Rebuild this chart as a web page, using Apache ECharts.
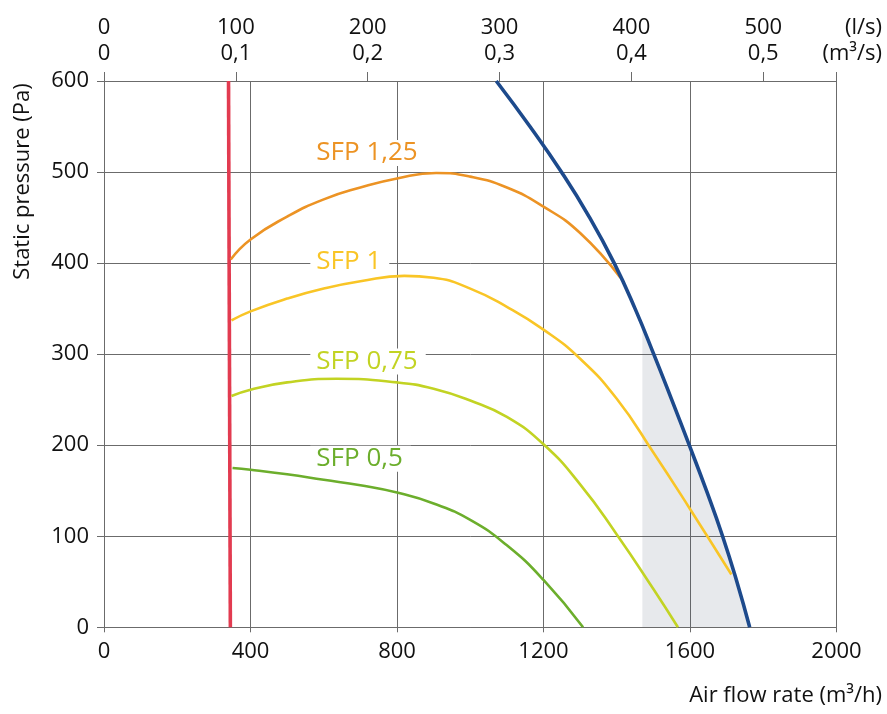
<!DOCTYPE html>
<html>
<head>
<meta charset="utf-8">
<script src="https://cdn.jsdelivr.net/npm/echarts@6/dist/echarts.min.js"></script>
<style>
	html, body { margin: 0; padding: 0; background: #fff; }
	#chart { width: 887px; height: 714px; }
</style>
</head>
<body>
<div id="chart"></div>
<script>
// axis ticks
var flowTicks = [0, 400, 800, 1200, 1600, 2000];          // m3/h
var lsTicks = [0, 100, 200, 300, 400, 500];               // l/s
var m3sTicks = ['0', '0,1', '0,2', '0,3', '0,4', '0,5'];  // m3/s
var pressureTicks = [0, 100, 200, 300, 400, 500, 600];

// red limit line
var redX = [345, 340];
var redY = [0, 600];

// fan curve (blue)
var blueX = [1071, 1163, 1249, 1326, 1393, 1450, 1501, 1550, 1598, 1645, 1689, 1728, 1763];
var blueY = [600, 550, 500, 450, 400, 350, 300, 250, 200, 150, 100, 50, 0];

// grey zone under the fan curve
var shadeX = [1470, 1501, 1550, 1598, 1645, 1689, 1728, 1763];
var shadeY = [330, 300, 250, 200, 150, 100, 50, 0];

// SFP curves
var sfp125X = [346, 400, 500, 600, 700, 800, 907, 1000, 1100, 1200, 1300, 1410];
var sfp125Y = [404, 426, 451, 470, 483, 493, 499, 495, 483, 462, 433, 384];

var sfp1X = [348, 400, 500, 600, 700, 820, 900, 1000, 1100, 1200, 1300, 1400, 1500, 1600, 1713];
var sfp1Y = [337, 347, 361, 372, 380, 386, 384, 372, 352, 327, 295, 251, 192, 130, 58];

var sfp075X = [348, 400, 500, 635, 800, 900, 1000, 1100, 1200, 1300, 1400, 1500, 1567];
var sfp075Y = [254, 261, 269, 273, 269, 262, 249, 231, 201, 157, 102, 42, 0];

var sfp05X = [351, 400, 500, 600, 700, 800, 900, 1000, 1100, 1200, 1308];
var sfp05Y = [175, 173, 168, 162, 156, 148, 136, 118, 90, 52, 0];

var sfpNames = ['SFP 1,25', 'SFP 1', 'SFP 0,75', 'SFP 0,5'];

function pairs(xs, ys) {
	return xs.map(function(x, i) { return [x, ys[i]]; });
}

var FONT = '"Open Sans", "Noto Sans", sans-serif';
var GRID = '#6b6b6b';

function sfpSeries(name, xs, ys, color, labelY) {
	return {
		name: name,
		type: 'line',
		data: pairs(xs, ys),
		smooth: 0.5,
		symbol: 'none',
		lineStyle: { color: color, width: 2.6 },
		markPoint: {
			symbol: 'circle',
			symbolSize: 1,
			itemStyle: { color: 'rgba(0,0,0,0)' },
			silent: true,
			label: {
				show: true,
				position: 'right',
				distance: 0,
				formatter: name,
				color: color,
				fontFamily: FONT,
				fontSize: 26,
				backgroundColor: '#fff',
				padding: [0, 8, 0, 6]
			},
			data: [{ coord: [562, labelY] }]
		}
	};
}

var chart = echarts.init(document.getElementById('chart'));

var option = {
	animation: false,
	backgroundColor: '#fff',
	grid: { left: 104, right: 50.5, top: 81, bottom: 86.7, containLabel: false },
	xAxis: [{
		type: 'value',
		position: 'bottom',
		min: flowTicks[0],
		max: flowTicks[flowTicks.length - 1],
		interval: 400,
		axisLine: { show: true, lineStyle: { color: GRID, width: 1 } },
		axisTick: { show: true, inside: false, length: 5, lineStyle: { color: GRID } },
		axisLabel: {
			margin: 13, color: '#111', fontFamily: FONT, fontSize: 22,
			formatter: function(v) { return String(v); }
		},
		splitLine: { show: true, lineStyle: { color: GRID, width: 1 } }
	}, {
		type: 'value',
		position: 'top',
		min: 0,
		max: 2000 / 3.6,
		interval: 100,
		axisLine: { show: true, lineStyle: { color: GRID, width: 1 } },
		axisTick: { show: true, inside: false, length: 9, lineStyle: { color: GRID } },
		axisLabel: {
			margin: 14,
			color: '#111',
			fontFamily: FONT,
			fontSize: 22,
			lineHeight: 26,
			formatter: function(v) {
				for (var i = 0; i < lsTicks.length; i++) {
					if (Math.abs(v - lsTicks[i]) < 1e-6) return lsTicks[i] + '\n' + m3sTicks[i];
				}
				return '';
			}
		},
		splitLine: { show: false }
	}],
	yAxis: {
		type: 'value',
		min: pressureTicks[0],
		max: pressureTicks[pressureTicks.length - 1],
		interval: 100,
		axisLine: { show: true, lineStyle: { color: GRID, width: 1 } },
		axisTick: { show: true, inside: false, length: 7, lineStyle: { color: GRID } },
		axisLabel: { margin: 15, color: '#111', fontFamily: FONT, fontSize: 22 },
		splitLine: { show: true, lineStyle: { color: GRID, width: 1 } }
	},
	graphic: [{
		type: 'text',
		x: 22.7,
		y: 181.5,
		rotation: Math.PI / 2,
		style: {
			text: 'Static pressure (Pa)',
			fill: '#111',
			font: '22px ' + FONT,
			align: 'center',
			verticalAlign: 'middle'
		}
	}, {
		type: 'text',
		x: 882,
		y: 695.7,
		style: {
			text: 'Air flow rate (m³/h)',
			fill: '#111',
			font: '22px ' + FONT,
			align: 'right',
			verticalAlign: 'middle'
		}
	}, {
		type: 'text',
		x: 882,
		y: 14.7,
		style: {
			text: '(l/s)\n(m³/s)',
			fill: '#111',
			font: '22px ' + FONT,
			lineHeight: 26,
			align: 'right',
			verticalAlign: 'top'
		}
	}],
	series: [{
		name: 'zone',
		type: 'line',
		data: pairs(shadeX, shadeY),
		smooth: 0.5,
		symbol: 'none',
		lineStyle: { width: 0 },
		areaStyle: { color: 'rgba(60,75,95,0.12)', opacity: 1 },
		silent: true
	}, {
		name: 'limit',
		type: 'line',
		data: pairs(redX, redY),
		symbol: 'none',
		lineStyle: { color: '#e23b50', width: 3.6 }
	},
		sfpSeries(sfpNames[3], sfp05X, sfp05Y, '#6cae2c', 185),
		sfpSeries(sfpNames[2], sfp075X, sfp075Y, '#c2d323', 292),
		sfpSeries(sfpNames[1], sfp1X, sfp1Y, '#f9c526', 402),
		sfpSeries(sfpNames[0], sfp125X, sfp125Y, '#ec9324', 521),
	{
		name: 'fan',
		type: 'line',
		data: pairs(blueX, blueY),
		smooth: 0.5,
		symbol: 'none',
		lineStyle: { color: '#1d4a8c', width: 3.6 }
	}]
};

chart.setOption(option);
window.onresize = chart.resize;
</script>
</body>
</html>
